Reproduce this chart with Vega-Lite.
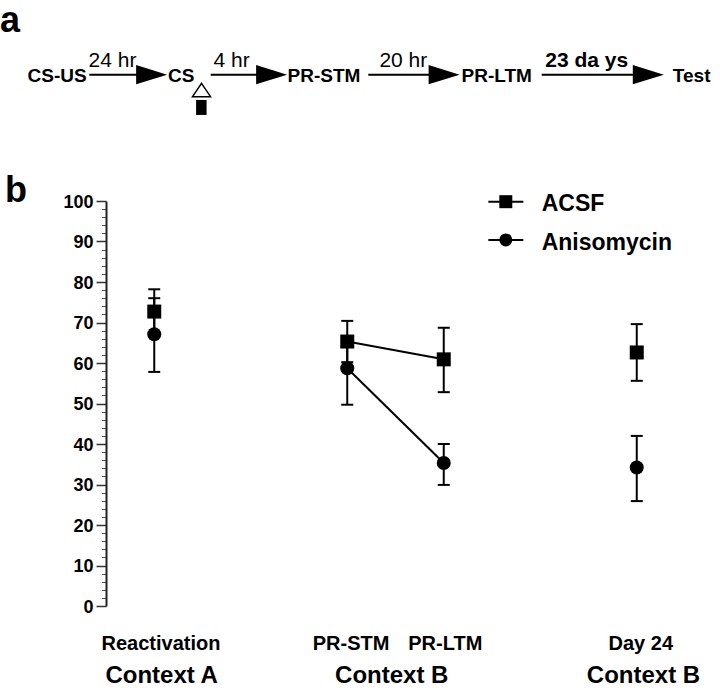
{
  "$schema": "https://vega.github.io/schema/vega-lite/v6.json",
  "width": 579,
  "height": 405,
  "autosize": {"type": "none"},
  "padding": {"left": 106, "top": 201, "right": 35, "bottom": 86},
  "background": "white",
  "config": {"view": {"stroke": null}, "font": "Liberation Sans"},
  "datasets": {
    "pts": [
      {"group": "ACSF", "cond": "Reactivation", "x": 0.5, "mean": 72.7, "lo": 67.2, "hi": 78.2},
      {"group": "Anisomycin", "cond": "Reactivation", "x": 0.5, "mean": 67.1, "lo": 57.8, "hi": 76.0},
      {"group": "ACSF", "cond": "PR-STM", "x": 2.5, "mean": 65.3, "lo": 60.2, "hi": 70.4},
      {"group": "Anisomycin", "cond": "PR-STM", "x": 2.5, "mean": 58.7, "lo": 49.7, "hi": 66.5},
      {"group": "ACSF", "cond": "PR-LTM", "x": 3.5, "mean": 60.9, "lo": 52.8, "hi": 68.7},
      {"group": "Anisomycin", "cond": "PR-LTM", "x": 3.5, "mean": 35.3, "lo": 29.9, "hi": 40.0},
      {"group": "ACSF", "cond": "Day 24", "x": 5.5, "mean": 62.6, "lo": 55.6, "hi": 69.6},
      {"group": "Anisomycin", "cond": "Day 24", "x": 5.5, "mean": 34.2, "lo": 25.9, "hi": 42.0}
    ],
    "legend": [
      {"group": "ACSF", "x": 3.962, "x2": 4.325, "xm": 4.143, "y": 99.83, "tx": 4.515, "ty": 97.6},
      {"group": "Anisomycin", "x": 3.962, "x2": 4.325, "xm": 4.143, "y": 90.4, "tx": 4.515, "ty": 88.0}
    ],
    "xlabels": [
      {"label": "Reactivation", "x": 0.57, "y": -10.8},
      {"label": "PR-STM", "x": 2.539, "y": -10.8},
      {"label": "PR-LTM", "x": 3.516, "y": -10.8},
      {"label": "Day 24", "x": 5.542, "y": -10.8}
    ],
    "contexts": [
      {"label": "Context A", "x": 0.577, "y": -19.1},
      {"label": "Context B", "x": 2.961, "y": -19.1},
      {"label": "Context B", "x": 5.57, "y": -19.1}
    ],
    "panels": [
      {"label": "a", "x": -0.995, "y": 141.8},
      {"label": "b", "x": -0.933, "y": 99.8}
    ],
    "nodes": [
      {"label": "CS-US", "x": -0.506, "y": 129.5},
      {"label": "CS", "x": 0.78, "y": 129.5},
      {"label": "PR-STM", "x": 2.259, "y": 129.5},
      {"label": "PR-LTM", "x": 4.049, "y": 129.5},
      {"label": "Test", "x": 6.069, "y": 129.5}
    ],
    "intervals": [
      {"label": "24 hr", "x": 0.067, "y": 133.2},
      {"label": "4 hr", "x": 1.302, "y": 133.2},
      {"label": "20 hr", "x": 3.081, "y": 133.2}
    ],
    "longinterval": [
      {"label": "23 da ys", "x": 4.981, "y": 133.2}
    ],
    "arrows": [
      {"from": -0.173, "to": 0.40, "head": 0.473, "y": 131.2},
      {"from": 1.085, "to": 1.65, "head": 1.716, "y": 131.2},
      {"from": 2.718, "to": 3.43, "head": 3.504, "y": 131.2},
      {"from": 4.515, "to": 5.55, "head": 5.62, "y": 131.2}
    ],
    "injection": [
      {"x": 0.99, "y": 127.4}
    ],
    "cannula": [
      {"x": 0.988, "y": 123.1}
    ]
  },
  "resolve": {"axis": {"y": "independent"}},
  "layer": [
    {
      "data": {"name": "pts"},
      "mark": {"type": "rule", "color": "black", "strokeWidth": 2},
      "encoding": {
        "x": {"field": "x", "type": "quantitative", "scale": {"domain": [0, 6], "nice": false, "zero": false}, "axis": null},
        "y": {"field": "lo", "type": "quantitative", "scale": {"domain": [0, 100], "nice": false, "zero": false}, "axis": null},
        "y2": {"field": "hi"}
      }
    },
    {
      "data": {"name": "pts"},
      "mark": {"type": "tick", "orient": "horizontal", "color": "black", "size": 12, "thickness": 2, "opacity": 1},
      "encoding": {
        "x": {"field": "x", "type": "quantitative", "axis": null},
        "y": {"field": "lo", "type": "quantitative", "axis": null}
      }
    },
    {
      "data": {"name": "pts"},
      "mark": {"type": "tick", "orient": "horizontal", "color": "black", "size": 12, "thickness": 2, "opacity": 1},
      "encoding": {
        "x": {"field": "x", "type": "quantitative", "axis": null},
        "y": {"field": "hi", "type": "quantitative", "axis": null}
      }
    },
    {
      "data": {"name": "pts"},
      "transform": [{"filter": {"field": "cond", "oneOf": ["PR-STM", "PR-LTM"]}}],
      "mark": {"type": "line", "color": "black", "strokeWidth": 2},
      "encoding": {
        "x": {"field": "x", "type": "quantitative", "axis": null},
        "y": {"field": "mean", "type": "quantitative", "axis": {"orient": "left", "values": [2,4,6,8,12,14,16,18,22,24,26,28,32,34,36,38,42,44,46,48,52,54,56,58,62,64,66,68,72,74,76,78,82,84,86,88,92,94,96,98], "labels": false, "domain": false, "grid": false, "title": null, "tickSize": 4.5, "tickWidth": 1, "tickColor": "#555"}},
        "detail": {"field": "group"}
      }
    },
    {
      "data": {"name": "pts"},
      "mark": {"type": "point", "filled": true, "color": "black", "opacity": 1, "size": 196},
      "encoding": {
        "x": {"field": "x", "type": "quantitative", "axis": {"values": [0,1,2,3,4,5,6], "labels": false, "grid": false, "title": null, "tickSize": 9, "tickWidth": 1.5, "tickColor": "#666", "domainColor": "#222", "domainWidth": 2}},
        "y": {"field": "mean", "type": "quantitative", "axis": {"orient": "left", "values": [0,10,20,30,40,50,60,70,80,90,100], "grid": false, "title": null, "tickSize": 10, "tickWidth": 1.5, "tickColor": "#333", "domainColor": "#222", "domainWidth": 2, "labelFont": "Liberation Sans", "labelFontSize": 18, "labelFontWeight": "bold", "labelColor": "black", "labelPadding": 3, "labelOffset": 1}},
        "shape": {"field": "group", "type": "nominal", "scale": {"domain": ["ACSF", "Anisomycin"], "range": ["square", "circle"]}, "legend": null}
      }
    },
    {
      "data": {"name": "legend"},
      "mark": {"type": "rule", "color": "black", "strokeWidth": 2},
      "encoding": {
        "x": {"field": "x", "type": "quantitative", "axis": null},
        "x2": {"field": "x2"},
        "y": {"field": "y", "type": "quantitative", "axis": null}
      }
    },
    {
      "data": {"name": "legend"},
      "mark": {"type": "point", "filled": true, "color": "black", "opacity": 1, "size": 169},
      "encoding": {
        "x": {"field": "xm", "type": "quantitative", "axis": null},
        "y": {"field": "y", "type": "quantitative", "axis": null},
        "shape": {"field": "group", "type": "nominal", "legend": null}
      }
    },
    {
      "data": {"name": "legend"},
      "mark": {"type": "text", "align": "left", "baseline": "alphabetic", "font": "Liberation Sans", "fontWeight": "bold", "fontSize": 23, "color": "black"},
      "encoding": {
        "x": {"field": "tx", "type": "quantitative", "axis": null},
        "y": {"field": "ty", "type": "quantitative", "axis": null},
        "text": {"field": "group"}
      }
    },
    {
      "data": {"name": "xlabels"},
      "mark": {"type": "text", "align": "center", "baseline": "alphabetic", "font": "Liberation Sans", "fontWeight": "bold", "fontSize": 20, "color": "black"},
      "encoding": {
        "x": {"field": "x", "type": "quantitative", "axis": null},
        "y": {"field": "y", "type": "quantitative", "axis": null},
        "text": {"field": "label"}
      }
    },
    {
      "data": {"name": "contexts"},
      "mark": {"type": "text", "align": "center", "baseline": "alphabetic", "font": "Liberation Sans", "fontWeight": "bold", "fontSize": 24, "color": "black"},
      "encoding": {
        "x": {"field": "x", "type": "quantitative", "axis": null},
        "y": {"field": "y", "type": "quantitative", "axis": null},
        "text": {"field": "label"}
      }
    },
    {
      "data": {"name": "panels"},
      "mark": {"type": "text", "align": "center", "baseline": "alphabetic", "font": "Liberation Sans", "fontWeight": "bold", "fontSize": 36, "color": "black"},
      "encoding": {
        "x": {"field": "x", "type": "quantitative", "axis": null},
        "y": {"field": "y", "type": "quantitative", "axis": null},
        "text": {"field": "label"}
      }
    },
    {
      "data": {"name": "nodes"},
      "mark": {"type": "text", "align": "center", "baseline": "alphabetic", "font": "Liberation Sans", "fontWeight": "bold", "fontSize": 19, "color": "black"},
      "encoding": {
        "x": {"field": "x", "type": "quantitative", "axis": null},
        "y": {"field": "y", "type": "quantitative", "axis": null},
        "text": {"field": "label"}
      }
    },
    {
      "data": {"name": "intervals"},
      "mark": {"type": "text", "align": "center", "baseline": "alphabetic", "font": "Liberation Sans", "fontWeight": "normal", "fontSize": 21, "color": "black"},
      "encoding": {
        "x": {"field": "x", "type": "quantitative", "axis": null},
        "y": {"field": "y", "type": "quantitative", "axis": null},
        "text": {"field": "label"}
      }
    },
    {
      "data": {"name": "longinterval"},
      "mark": {"type": "text", "align": "center", "baseline": "alphabetic", "font": "Liberation Sans", "fontWeight": "bold", "fontSize": 21, "color": "black"},
      "encoding": {
        "x": {"field": "x", "type": "quantitative", "axis": null},
        "y": {"field": "y", "type": "quantitative", "axis": null},
        "text": {"field": "label"}
      }
    },
    {
      "data": {"name": "arrows"},
      "mark": {"type": "rule", "color": "black", "strokeWidth": 2},
      "encoding": {
        "x": {"field": "from", "type": "quantitative", "axis": null},
        "x2": {"field": "to"},
        "y": {"field": "y", "type": "quantitative", "axis": null}
      }
    },
    {
      "data": {"name": "arrows"},
      "mark": {"type": "point", "shape": "M-1,-0.62L1,0L-1,0.62Z", "filled": true, "color": "black", "opacity": 1, "size": 961},
      "encoding": {
        "x": {"field": "head", "type": "quantitative", "axis": null},
        "y": {"field": "y", "type": "quantitative", "axis": null}
      }
    },
    {
      "data": {"name": "injection"},
      "mark": {"type": "point", "shape": "M0,-0.74L1,0.74L-1,0.74Z", "filled": false, "fill": "white", "fillOpacity": 1, "stroke": "black", "strokeWidth": 1.5, "opacity": 1, "size": 324},
      "encoding": {
        "x": {"field": "x", "type": "quantitative", "axis": null},
        "y": {"field": "y", "type": "quantitative", "axis": null}
      }
    },
    {
      "data": {"name": "cannula"},
      "mark": {"type": "point", "shape": "M-0.7,-1L0.7,-1L0.7,1L-0.7,1Z", "filled": true, "color": "black", "opacity": 1, "size": 225},
      "encoding": {
        "x": {"field": "x", "type": "quantitative", "axis": null},
        "y": {"field": "y", "type": "quantitative", "axis": null}
      }
    }
  ]
}
